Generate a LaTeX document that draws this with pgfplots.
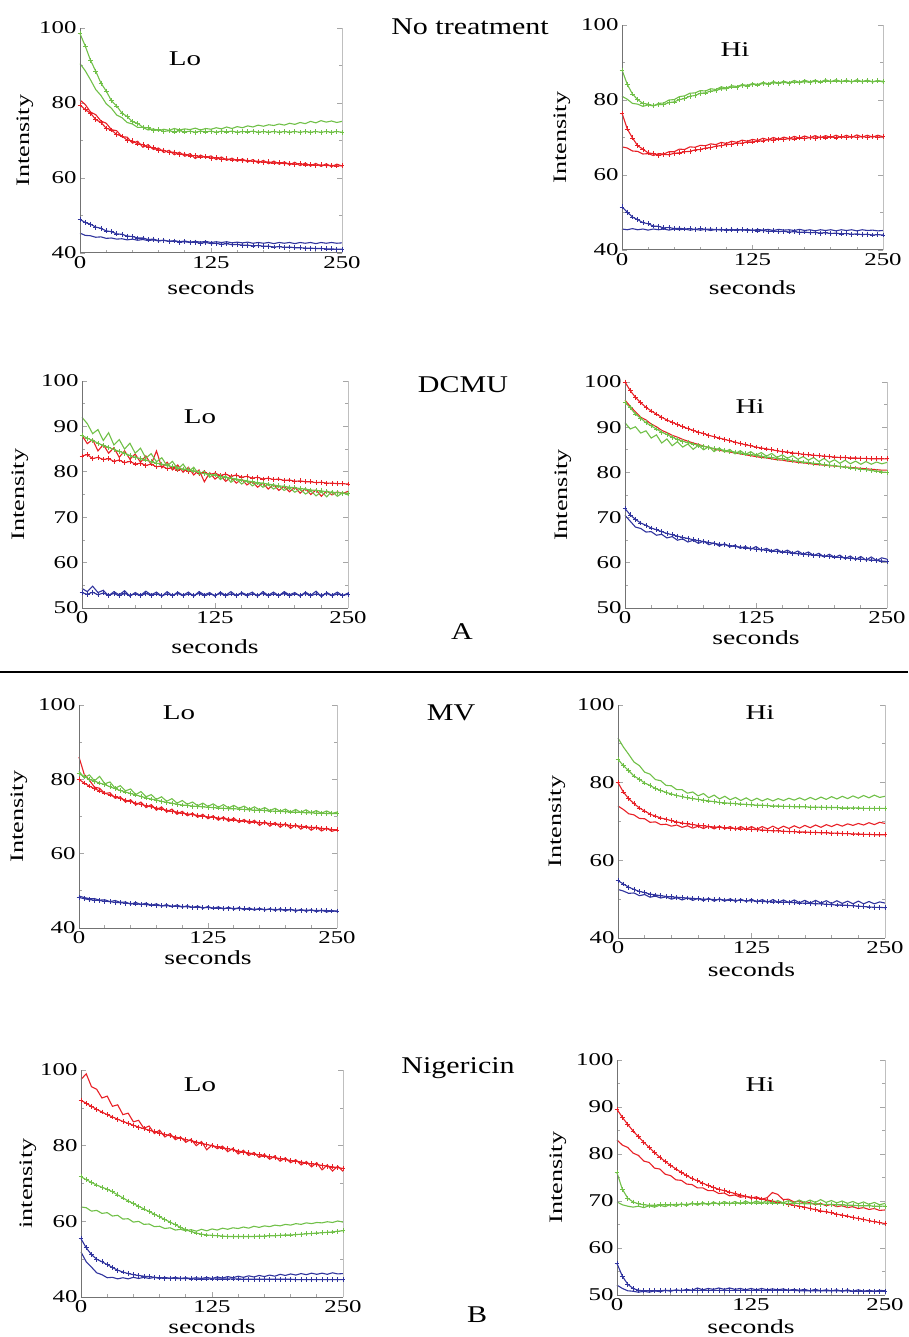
\documentclass[border=0pt]{standalone}
\usepackage{fontspec}
\usepackage{pgfplots}
\usepackage{pgfplotstable}
\pgfplotsset{compat=1.18}

\newfontfamily\serifx[FakeStretch=1.38]{Liberation Serif}
\newfontfamily\serifg[FakeStretch=1.25]{Liberation Serif}
\newcommand\tickf{\serifx\fontsize{18}{18}\selectfont}
\newcommand\labf{\serifx\fontsize{20}{20}\selectfont}
\newcommand\intf{\serifx\fontsize{19}{19}\selectfont}
\newcommand\ttlf{\serifx\fontsize{21}{21}\selectfont}
\newcommand\grpf{\serifg\fontsize{24}{24}\selectfont}

\definecolor{cr}{RGB}{232,32,38}
\definecolor{cg}{RGB}{112,192,72}
\definecolor{cb}{RGB}{48,52,158}

\pgfplotsset{
  panel/.style={
    scale only axis, clip=false,
    xmin=0, xmax=250,
    xtick={0,125,250},
    minor xtick={25,50,75,100,150,175,200,225},
    minor y tick num=1,
    axis line style={draw=none},
    xtick pos=left, ytick pos=both,
    tick align=inside,
    major tick length=5pt, minor tick length=3pt,
    tick style={gray!70, line width=0.7pt},
    tick label style={font=\tickf},
    /pgf/number format/assume math mode=true,
    xticklabel style={inner sep=1pt, yshift=-2pt},
    xlabel={seconds},
  },
  xlab/.style={every axis x label/.style={at={([yshift=-#1]axis description cs:0.5,0)}, anchor=center, font=\labf}},
  ylab/.style={every axis y label/.style={at={([xshift=-#1]axis description cs:0,0.5)}, anchor=center, rotate=90, font=\intf}},
  pl/.style={#1, line width=1.1pt, mark=+, mark size=2.4pt, mark options={solid, line width=0.7pt}},
  ln/.style={#1, line width=1.1pt, no marks},
}

\newcommand\frameit{%
  \draw[black!55, line width=1pt] (rel axis cs:0,1) -- (rel axis cs:0,0) -- (rel axis cs:1,0);
  \draw[black!25, line width=0.8pt] (rel axis cs:1,0) -- (rel axis cs:1,1);}

\newcommand\six[1]{%
  \addplot[pl=cb] table[x=t,y=b1]{#1};
  \addplot[ln=cb] table[x=t,y=b2]{#1};
  \addplot[pl=cr] table[x=t,y=r1]{#1};
  \addplot[ln=cr] table[x=t,y=r2]{#1};
  \addplot[pl=cg] table[x=t,y=g1]{#1};
  \addplot[ln=cg] table[x=t,y=g2]{#1};
  \frameit}

% No treatment, Lo
\pgfplotstableread{
t r1 r2 g1 g2 b1 b2
0 79.5 80.8 98.5 90.5 49.0 45.3
5 78.2 79.6 95.2 88.6 48.1 44.7
10 77.3 77.6 91.4 86.2 47.7 44.6
15 75.6 76.9 88.5 83.6 46.9 44.2
20 74.8 75.2 85.3 82.0 46.6 44.3
25 73.3 74.6 83.2 79.8 45.9 43.9
30 72.8 72.9 80.6 78.6 45.7 44.0
35 71.6 72.6 79.2 76.8 45.1 43.7
40 71.2 71.0 77.3 76.1 45.0 43.8
45 70.1 70.9 76.4 74.8 44.5 43.5
50 69.9 69.3 75.0 74.4 44.4 43.7
55 69.1 69.8 74.6 73.5 44.0 43.4
60 68.9 68.2 73.5 73.5 44.0 43.6
65 68.2 68.9 73.4 72.8 43.6 43.3
70 68.1 67.6 72.7 73.1 43.7 43.5
75 67.4 68.0 72.9 72.6 43.3 43.2
80 67.4 66.8 72.4 73.0 43.4 43.4
85 66.8 67.4 72.6 72.7 43.1 43.1
90 66.9 66.2 72.3 73.2 43.2 43.3
95 66.3 66.9 72.6 72.8 42.9 43.0
100 66.4 65.8 72.3 73.1 43.0 43.2
105 65.9 66.5 72.5 72.9 42.8 42.9
110 66.0 65.2 72.2 73.3 42.9 43.1
115 65.6 66.1 72.5 72.8 42.6 42.9
120 65.7 65.4 72.3 73.2 42.8 43.1
125 65.3 65.9 72.5 73.0 42.5 42.8
130 65.4 64.9 72.2 73.4 42.6 43.0
135 65.0 65.6 72.5 73.1 42.3 42.8
140 65.1 64.7 72.3 73.6 42.5 43.0
145 64.8 65.3 72.5 73.2 42.2 42.7
150 64.9 64.5 72.2 73.7 42.3 42.9
155 64.6 65.1 72.4 73.4 42.1 42.7
160 64.7 64.3 72.3 73.9 42.1 42.9
165 64.4 64.9 72.5 73.6 41.9 42.6
170 64.5 64.0 72.2 74.1 42.0 42.8
175 64.2 64.7 72.4 73.8 41.8 42.6
180 64.3 63.8 72.2 74.2 41.8 42.8
185 64.0 64.5 72.4 74.0 41.6 42.5
190 64.1 63.7 72.2 74.4 41.7 42.8
195 63.8 64.3 72.4 74.1 41.5 42.6
200 63.9 63.5 72.2 74.6 41.6 42.8
205 63.7 64.2 72.4 74.3 41.4 42.5
210 63.8 63.3 72.2 74.8 41.4 42.8
215 63.5 64.0 72.4 74.5 41.3 42.6
220 63.6 63.2 72.2 75.1 41.3 42.8
225 63.4 63.9 72.4 74.7 41.2 42.5
230 63.5 63.1 72.2 75.3 41.2 42.8
235 63.3 63.8 72.4 74.9 41.1 42.6
240 63.4 63.0 72.2 75.2 41.1 42.8
245 63.2 63.7 72.4 74.8 41.0 42.6
250 63.3 63.2 72.2 75.1 41.0 42.7
}\tA

% No treatment, Hi
\pgfplotstableread{
t r1 r2 g1 g2 b1 b2
0 76.5 67.5 88.0 81.0 51.5 45.6
5 72.3 67.2 84.2 80.2 50.1 45.4
10 69.9 66.4 81.6 79.1 48.8 45.7
15 67.8 66.3 80.1 78.9 48.1 45.4
20 66.9 65.6 79.1 78.3 47.3 45.6
25 65.9 65.7 78.9 78.7 47.0 45.3
30 65.7 65.2 78.5 78.4 46.4 45.6
35 65.3 65.7 78.8 79.1 46.3 45.4
40 65.5 65.6 78.8 79.2 45.9 45.6
45 65.4 66.2 79.3 80.0 46.0 45.3
50 65.8 66.2 79.5 80.1 45.7 45.6
55 65.9 66.9 80.1 80.9 45.8 45.4
60 66.2 66.8 80.4 81.1 45.6 45.6
65 66.3 67.5 81.0 81.8 45.7 45.3
70 66.7 67.4 81.2 81.9 45.5 45.5
75 66.8 67.9 81.8 82.5 45.7 45.3
80 67.2 67.8 81.9 82.4 45.5 45.5
85 67.3 68.3 82.4 83.0 45.6 45.2
90 67.7 68.1 82.5 82.8 45.4 45.5
95 67.8 68.7 83.0 83.5 45.5 45.3
100 68.1 68.4 83.0 83.2 45.3 45.5
105 68.2 69.0 83.5 83.8 45.5 45.2
110 68.5 68.7 83.4 83.6 45.3 45.5
115 68.5 69.3 83.9 84.1 45.4 45.3
120 68.8 69.0 83.7 83.9 45.2 45.5
125 68.8 69.5 84.2 84.4 45.3 45.2
130 69.1 69.2 84.0 84.1 45.1 45.5
135 69.1 69.8 84.4 84.7 45.2 45.3
140 69.4 69.4 84.2 84.3 45.0 45.5
145 69.3 70.0 84.6 84.9 45.1 45.2
150 69.6 69.5 84.4 84.5 44.9 45.5
155 69.5 70.1 84.7 85.0 45.0 45.3
160 69.7 69.7 84.5 84.6 44.8 45.4
165 69.6 70.3 84.8 85.2 44.9 45.2
170 69.9 69.8 84.6 84.7 44.7 45.5
175 69.7 70.4 84.9 85.3 44.8 45.2
180 70.0 69.9 84.7 84.8 44.6 45.4
185 69.8 70.5 85.0 85.3 44.7 45.1
190 70.1 69.9 84.8 84.8 44.5 45.4
195 69.9 70.5 85.1 85.4 44.6 45.2
200 70.2 70.0 84.9 84.9 44.4 45.4
205 69.9 70.6 85.1 85.4 44.5 45.1
210 70.2 70.0 84.9 84.9 44.3 45.4
215 70.0 70.6 85.1 85.3 44.4 45.2
220 70.3 70.0 84.9 84.8 44.2 45.4
225 70.0 70.7 85.1 85.4 44.3 45.1
230 70.3 70.1 84.9 84.9 44.1 45.4
235 70.0 70.6 85.1 85.3 44.2 45.2
240 70.3 70.1 84.9 84.8 44.0 45.3
245 70.1 70.6 85.1 85.2 44.1 45.1
250 70.2 70.2 85.0 84.8 44.0 45.2
}\tB

% DCMU, Lo
\pgfplotstableread{
t r1 r2 g1 g2 b1 b2
0 83.5 88.0 88.0 92.0 53.4 54.3
5 83.8 86.2 87.4 90.6 53.0 53.6
10 82.9 87.1 86.9 88.4 53.5 54.8
15 83.2 84.6 86.3 89.3 52.9 53.4
20 82.7 86.0 85.8 86.9 53.3 53.9
25 82.9 84.1 85.4 88.6 52.8 52.7
30 82.3 85.3 84.9 85.9 53.2 53.6
35 82.6 83.2 84.5 87.1 52.7 52.9
40 82.0 84.6 84.1 85.0 53.2 53.8
45 82.3 82.8 83.6 86.3 52.8 52.6
50 81.7 83.9 83.2 84.1 53.1 53.4
55 81.9 82.1 82.9 85.2 52.7 52.8
60 81.4 83.5 82.6 83.0 53.2 53.7
65 81.7 81.6 82.2 84.0 52.8 52.9
70 81.1 84.6 81.9 82.2 53.1 53.5
75 81.3 80.9 81.7 83.1 52.7 52.6
80 80.7 82.1 81.4 81.3 53.1 53.6
85 80.9 80.4 81.1 82.3 52.8 52.7
90 80.4 81.5 80.8 80.6 53.2 53.5
95 80.6 79.9 80.6 81.7 52.7 52.8
100 80.1 81.0 80.5 80.0 53.1 53.5
105 80.2 79.3 80.2 81.0 52.8 52.6
110 79.6 80.4 79.9 79.4 53.2 53.6
115 79.9 77.8 79.6 80.2 52.7 52.9
120 79.4 79.8 79.4 78.8 53.1 53.4
125 79.7 78.4 79.3 79.7 52.8 52.6
130 79.2 79.3 79.0 78.3 53.2 53.5
135 79.5 77.9 78.8 79.1 52.7 52.8
140 79.0 78.8 78.6 77.7 53.1 53.6
145 79.3 77.5 78.4 78.5 52.8 52.7
150 78.8 78.4 78.2 77.3 53.2 53.4
155 79.0 77.1 78.0 78.1 52.7 52.9
160 78.6 77.9 77.8 76.9 53.1 53.5
165 78.8 76.6 77.6 77.6 52.8 52.6
170 78.4 77.5 77.5 76.6 53.2 53.6
175 78.6 76.2 77.3 77.2 52.7 52.8
180 78.3 77.2 77.1 76.2 53.1 53.5
185 78.4 75.9 76.9 76.9 52.8 52.7
190 78.1 76.8 76.8 75.9 53.2 53.6
195 78.2 75.6 76.6 76.5 52.7 52.9
200 77.9 76.6 76.5 75.5 53.1 53.4
205 78.0 75.3 76.3 76.2 52.8 52.6
210 77.8 76.3 76.2 75.1 53.2 53.5
215 77.8 75.0 76.0 75.8 52.7 52.8
220 77.6 76.0 75.9 74.7 53.1 53.7
225 77.7 74.6 75.8 75.6 52.8 52.5
230 77.5 75.8 75.6 74.5 53.2 53.4
235 77.5 74.9 75.5 75.7 52.7 52.8
240 77.4 75.6 75.4 74.6 53.1 53.5
245 77.4 75.2 75.3 75.4 52.8 52.7
250 77.3 75.7 75.3 74.9 53.0 53.3
}\tC

% DCMU, Hi
\pgfplotstableread{
t r1 r2 g1 g2 b1 b2
0 100.0 96.0 95.5 91.0 72.0 70.5
5 98.1 94.6 94.3 89.6 70.6 69.2
10 96.6 93.4 92.9 90.1 69.6 67.9
15 95.4 92.2 92.0 88.7 68.8 67.6
20 94.4 91.6 91.0 89.2 68.3 66.8
25 93.6 90.7 90.3 87.6 67.7 66.9
30 92.9 90.1 89.6 88.3 67.3 66.1
35 92.2 89.3 88.9 86.5 66.9 66.3
40 91.6 88.8 88.4 87.4 66.5 65.5
45 91.1 88.2 87.8 85.9 66.2 65.8
50 90.6 87.8 87.3 86.8 65.9 65.0
55 90.1 87.3 86.9 85.6 65.6 65.3
60 89.7 86.9 86.6 86.3 65.4 64.6
65 89.3 86.5 86.3 85.1 65.1 65.0
70 88.9 86.2 86.0 86.0 64.9 64.3
75 88.6 85.8 85.8 85.0 64.7 64.8
80 88.2 85.5 85.5 85.7 64.5 64.0
85 87.9 85.2 85.3 84.6 64.3 64.4
90 87.6 84.9 85.1 85.4 64.1 63.7
95 87.3 84.7 84.9 84.5 64.0 64.2
100 87.0 84.5 84.7 85.1 63.8 63.5
105 86.7 84.3 84.5 84.1 63.6 63.9
110 86.4 84.1 84.3 84.8 63.5 63.2
115 86.1 83.9 84.1 84.0 63.3 63.6
120 85.9 83.7 83.9 84.6 63.2 63.0
125 85.6 83.5 83.8 83.8 63.0 63.6
130 85.4 83.3 83.6 84.4 62.9 62.8
135 85.2 83.2 83.4 83.6 62.8 63.2
140 85.0 83.0 83.3 84.2 62.6 62.6
145 84.8 82.8 83.1 83.3 62.5 63.0
150 84.6 82.7 83.0 83.9 62.4 62.3
155 84.5 82.5 82.8 83.1 62.3 62.8
160 84.3 82.4 82.6 83.7 62.1 62.1
165 84.2 82.2 82.5 82.9 62.0 62.6
170 84.0 82.1 82.3 83.5 61.9 61.9
175 83.9 82.0 82.2 82.7 61.8 62.4
180 83.8 81.8 82.0 83.3 61.7 61.6
185 83.7 81.7 81.9 82.4 61.6 62.1
190 83.6 81.6 81.7 83.1 61.5 61.3
195 83.5 81.5 81.6 82.2 61.4 61.9
200 83.4 81.4 81.5 82.8 61.3 61.2
205 83.3 81.3 81.3 82.0 61.2 61.7
210 83.3 81.2 81.2 82.7 61.1 60.9
215 83.2 81.1 81.0 81.9 61.0 61.5
220 83.2 81.0 80.9 82.5 60.9 60.7
225 83.1 80.9 80.7 81.8 60.8 61.4
230 83.1 80.8 80.6 82.4 60.7 60.6
235 83.0 80.7 80.4 81.8 60.6 61.3
240 83.0 80.6 80.3 82.3 60.5 60.5
245 83.0 80.5 80.1 81.9 60.4 61.1
250 83.0 80.5 80.0 82.2 60.3 60.8
}\tD

% MV, Lo
\pgfplotstableread{
t r1 r2 g1 g2 b1 b2
0 80.0 86.0 81.5 82.2 48.2 48.6
5 79.0 81.4 80.8 80.4 47.9 48.2
10 78.2 79.8 80.0 81.2 47.6 47.9
15 77.5 77.9 79.5 79.6 47.5 47.9
20 76.9 77.6 79.0 80.8 47.4 47.5
25 76.3 76.2 78.6 78.8 47.2 47.6
30 75.8 76.4 78.0 79.3 47.1 47.1
35 75.3 74.9 77.5 77.6 46.9 47.4
40 74.9 75.3 77.0 78.3 46.8 46.9
45 74.4 73.9 76.6 76.9 46.7 47.0
50 74.0 74.5 76.2 77.4 46.6 46.4
55 73.6 73.1 75.8 75.9 46.5 46.9
60 73.3 73.9 75.4 76.7 46.4 46.3
65 72.9 72.4 75.0 75.3 46.3 46.7
70 72.6 73.2 74.7 75.9 46.2 46.1
75 72.3 71.7 74.4 74.6 46.1 46.5
80 72.0 72.6 74.1 75.3 46.0 45.9
85 71.7 71.2 73.8 74.1 46.0 46.3
90 71.4 72.0 73.6 74.8 45.9 45.7
95 71.2 70.6 73.3 73.6 45.8 46.2
100 70.9 71.4 73.1 74.3 45.8 45.6
105 70.7 70.2 73.0 73.3 45.7 46.0
110 70.5 70.9 72.8 73.9 45.6 45.5
115 70.3 69.8 72.7 72.9 45.6 45.9
120 70.1 70.6 72.6 73.6 45.5 45.3
125 69.9 69.4 72.5 72.7 45.5 45.8
130 69.8 70.2 72.4 73.4 45.4 45.2
135 69.6 69.0 72.3 72.5 45.4 45.7
140 69.4 69.9 72.2 73.2 45.3 45.1
145 69.3 68.7 72.1 72.3 45.3 45.6
150 69.1 69.6 72.1 73.0 45.3 45.0
155 68.9 68.4 72.0 72.2 45.2 45.5
160 68.8 69.2 71.9 72.8 45.2 44.9
165 68.7 68.1 71.8 71.9 45.1 45.4
170 68.5 69.0 71.7 72.6 45.1 44.8
175 68.4 67.6 71.7 71.8 45.1 45.3
180 68.3 68.6 71.6 72.4 45.0 44.8
185 68.1 67.4 71.5 71.6 45.0 45.2
190 68.0 68.4 71.4 72.2 45.0 44.7
195 67.9 67.1 71.4 71.4 44.9 45.2
200 67.8 68.1 71.3 72.0 44.9 44.6
205 67.6 66.8 71.2 71.2 44.9 45.1
210 67.5 67.8 71.2 71.9 44.8 44.5
215 67.4 66.6 71.1 71.1 44.8 45.0
220 67.2 67.5 71.0 71.8 44.8 44.5
225 67.1 66.3 71.0 71.0 44.8 44.9
230 67.0 67.2 70.9 71.6 44.7 44.4
235 66.8 66.1 70.9 70.9 44.7 44.8
240 66.7 66.9 70.8 71.5 44.7 44.3
245 66.5 66.0 70.8 70.8 44.6 44.7
250 66.4 66.5 70.8 71.2 44.6 44.4
}\tE

% MV, Hi
\pgfplotstableread{
t r1 r2 g1 g2 b1 b2
0 80.0 74.0 86.0 91.5 54.8 52.5
5 77.6 73.1 84.4 89.2 53.9 52.1
10 75.9 72.0 83.1 87.3 53.1 51.5
15 74.6 71.7 81.7 85.3 52.5 51.6
20 73.5 70.8 80.9 84.4 52.0 50.9
25 72.7 70.7 79.9 82.7 51.7 51.2
30 71.9 69.8 79.3 82.2 51.3 50.5
35 71.4 69.9 78.5 80.8 51.1 50.8
40 70.9 69.2 78.0 80.5 50.9 50.3
45 70.6 69.3 77.5 79.3 50.7 50.6
50 70.2 68.8 77.1 79.2 50.6 50.0
55 69.9 69.1 76.7 78.2 50.5 50.4
60 69.6 68.5 76.4 78.2 50.4 49.8
65 69.4 68.9 76.1 77.3 50.3 50.3
70 69.2 68.3 75.9 77.6 50.2 49.7
75 69.0 68.8 75.7 76.6 50.1 50.2
80 68.9 68.2 75.5 77.2 50.0 49.6
85 68.7 68.8 75.3 76.1 50.0 50.2
90 68.6 68.1 75.1 76.8 49.9 49.5
95 68.5 68.8 74.9 75.8 49.9 50.1
100 68.4 68.1 74.8 76.5 49.8 49.5
105 68.3 68.7 74.7 75.6 49.8 50.1
110 68.2 68.0 74.6 76.2 49.7 49.4
115 68.1 68.7 74.5 75.4 49.7 50.0
120 68.1 68.0 74.4 76.1 49.6 49.4
125 68.0 68.7 74.3 75.3 49.6 50.0
130 67.9 68.0 74.2 76.0 49.5 49.3
135 67.8 68.7 74.2 75.3 49.4 49.9
140 67.7 68.1 74.1 75.9 49.4 49.2
145 67.6 68.8 74.0 75.3 49.3 49.9
150 67.6 68.1 74.0 75.9 49.3 49.2
155 67.5 68.8 73.9 75.4 49.2 49.8
160 67.4 68.2 73.9 76.0 49.2 49.1
165 67.4 68.9 73.8 75.5 49.1 49.8
170 67.3 68.3 73.8 76.1 49.0 49.1
175 67.3 69.0 73.8 75.5 49.0 49.7
180 67.2 68.4 73.7 76.2 48.9 49.0
185 67.2 69.1 73.7 75.6 48.8 49.7
190 67.1 68.5 73.7 76.3 48.8 49.0
195 67.1 69.2 73.6 75.7 48.7 49.6
200 67.0 68.7 73.6 76.4 48.6 48.9
205 67.0 69.3 73.6 75.8 48.5 49.6
210 66.9 68.8 73.5 76.5 48.5 48.9
215 66.9 69.4 73.5 75.9 48.4 49.5
220 66.8 69.0 73.5 76.6 48.3 48.8
225 66.8 69.5 73.5 76.0 48.2 49.5
230 66.7 69.1 73.4 76.7 48.1 48.8
235 66.7 69.7 73.4 76.1 48.0 49.4
240 66.6 69.2 73.4 76.8 47.9 48.8
245 66.6 69.8 73.4 76.2 47.9 49.3
250 66.6 69.5 73.4 76.5 47.8 49.0
}\tF

% Nigericin, Lo
\pgfplotstableread{
t r1 r2 g1 g2 b1 b2
0 92.0 97.5 71.8 63.8 55.4 51.9
5 91.2 99.0 71.0 63.6 53.0 49.3
10 90.4 95.6 70.3 62.7 51.2 47.9
15 89.6 94.9 69.6 62.9 50.0 46.4
20 88.9 92.6 69.0 62.1 49.3 45.9
25 88.2 93.1 68.5 62.3 48.6 45.1
30 87.6 90.4 67.8 61.4 47.8 45.2
35 87.0 90.8 67.0 61.6 47.1 44.8
40 86.4 88.2 66.2 60.6 46.6 45.1
45 85.9 88.6 65.4 60.7 46.2 44.8
50 85.4 86.3 64.7 59.8 45.9 45.2
55 84.9 86.7 64.0 60.0 45.7 44.9
60 84.5 84.6 63.3 59.2 45.5 45.2
65 84.1 85.2 62.6 59.3 45.4 44.9
70 83.7 83.2 61.9 58.6 45.2 45.2
75 83.3 84.1 61.2 58.7 45.1 44.9
80 83.0 82.3 60.5 58.1 45.0 45.2
85 82.6 83.2 59.8 58.3 45.0 44.9
90 82.3 81.6 59.1 57.7 44.9 45.2
95 82.0 82.3 58.4 57.9 44.9 44.9
100 81.6 80.9 57.8 57.5 44.9 45.1
105 81.3 81.7 57.3 57.8 44.8 44.9
110 81.0 80.0 56.9 57.4 44.8 45.1
115 80.6 81.1 56.6 57.9 44.8 44.9
120 80.3 78.9 56.4 57.5 44.8 45.2
125 80.0 80.2 56.3 58.0 44.8 44.9
130 79.7 79.2 56.2 57.7 44.8 45.3
135 79.4 79.9 56.1 58.2 44.8 45.0
140 79.2 78.4 56.0 57.9 44.8 45.4
145 78.9 79.3 56.0 58.3 44.8 45.1
150 78.6 77.8 56.0 58.1 44.8 45.5
155 78.3 78.8 56.0 58.5 44.7 45.2
160 78.1 77.4 56.0 58.2 44.7 45.6
165 77.8 78.2 56.0 58.7 44.7 45.3
170 77.6 76.9 56.1 58.4 44.7 45.7
175 77.3 77.7 56.1 58.8 44.7 45.4
180 77.1 76.4 56.2 58.6 44.7 45.8
185 76.8 77.3 56.2 59.0 44.7 45.5
190 76.6 75.9 56.3 58.8 44.7 46.0
195 76.3 76.8 56.4 59.2 44.7 45.7
200 76.1 75.5 56.4 59.0 44.7 46.1
205 75.9 76.3 56.5 59.4 44.6 45.8
210 75.7 74.9 56.6 59.2 44.6 46.2
215 75.4 75.8 56.7 59.6 44.6 45.9
220 75.2 74.4 56.8 59.4 44.6 46.3
225 75.0 75.5 56.9 59.7 44.6 46.0
230 74.8 73.6 57.0 59.6 44.6 46.3
235 74.6 74.9 57.1 59.9 44.6 46.0
240 74.4 73.3 57.2 59.7 44.6 46.4
245 74.2 74.6 57.4 60.1 44.6 46.1
250 74.0 73.2 57.5 59.8 44.6 46.2
}\tG

% Nigericin, Hi
\pgfplotstableread{
t r1 r2 g1 g2 b1 b2
0 89.5 83.0 76.0 69.8 56.7 52.1
5 87.8 81.9 72.5 69.2 54.0 51.4
10 86.3 81.4 70.6 68.9 52.3 50.9
15 84.9 80.2 69.8 68.7 51.4 50.8
20 83.7 79.7 69.4 68.9 51.0 50.6
25 82.5 78.5 69.2 68.6 50.9 50.8
30 81.4 78.2 69.1 69.0 50.9 50.6
35 80.3 77.0 69.1 68.7 50.9 50.9
40 79.3 76.8 69.2 69.1 50.9 50.7
45 78.4 75.7 69.2 68.8 51.0 51.0
50 77.6 75.4 69.2 69.3 51.0 50.8
55 76.8 74.5 69.3 68.9 51.0 51.1
60 76.1 74.4 69.3 69.4 51.0 50.9
65 75.4 73.6 69.3 69.0 51.0 51.2
70 74.8 73.5 69.4 69.6 51.0 51.0
75 74.3 72.8 69.4 69.1 51.0 51.5
80 73.8 72.8 69.4 69.7 51.0 51.1
85 73.3 72.2 69.4 69.2 51.0 51.4
90 72.9 72.2 69.5 69.8 51.0 51.2
95 72.5 71.6 69.5 69.3 51.0 51.5
100 72.2 71.7 69.5 69.9 51.0 51.2
105 71.9 71.1 69.5 69.4 51.0 51.5
110 71.6 71.3 69.5 69.9 51.0 51.2
115 71.3 70.8 69.6 69.4 51.0 51.4
120 71.0 71.0 69.6 70.0 51.0 51.1
125 70.8 70.6 69.6 69.5 51.0 51.4
130 70.6 70.9 69.6 70.0 51.0 51.1
135 70.4 70.4 69.6 69.6 51.0 51.4
140 70.2 70.7 69.6 70.1 51.0 51.1
145 70.0 71.8 69.6 69.6 51.0 51.3
150 69.8 71.4 69.6 70.1 51.0 51.1
155 69.6 70.3 69.5 69.6 51.0 51.3
160 69.3 70.4 69.5 70.1 51.0 51.0
165 69.1 69.8 69.5 69.6 51.0 51.2
170 68.9 70.0 69.5 70.2 50.9 51.0
175 68.7 69.5 69.4 69.7 50.9 51.2
180 68.4 69.7 69.4 70.2 50.9 50.9
185 68.2 69.2 69.4 69.7 50.9 51.2
190 67.9 69.5 69.3 70.3 50.9 50.9
195 67.7 69.0 69.3 69.7 50.9 51.1
200 67.5 69.3 69.3 70.1 50.9 50.9
205 67.2 68.8 69.2 69.6 50.9 51.1
210 67.0 69.0 69.2 70.0 50.9 50.8
215 66.8 68.6 69.1 69.5 50.9 51.1
220 66.5 68.8 69.1 69.9 50.8 50.8
225 66.3 68.4 69.0 69.4 50.8 51.1
230 66.1 68.6 69.0 69.8 50.8 50.8
235 65.8 68.2 69.0 69.3 50.8 51.0
240 65.6 68.4 68.9 69.7 50.8 50.8
245 65.4 68.0 68.9 69.2 50.8 51.0
250 65.2 68.1 68.9 69.5 50.8 50.9
}\tH

\begin{document}
\begin{tikzpicture}
% row 1: no treatment
\begin{axis}[panel, at={(80pt,-253pt)}, anchor=south west, width=262pt, height=225pt,
  ymin=40, ymax=100, ytick={40,60,80,100}, xlab=35pt, ylab=55pt, ylabel={Intensity}]
\six{\tA}
\end{axis}
\begin{axis}[panel, at={(622pt,-250pt)}, anchor=south west, width=261pt, height=225pt,
  ymin=40, ymax=100, ytick={40,60,80,100}, xlab=38pt, ylab=60pt, ylabel={Intensity}]
\six{\tB}
\end{axis}
% row 2: DCMU
\begin{axis}[panel, at={(82pt,-608pt)}, anchor=south west, width=266pt, height=227pt,
  ymin=50, ymax=100, ytick={50,60,...,100}, xlab=39pt, ylab=62pt, ylabel={Intensity}]
\six{\tC}
\end{axis}
\begin{axis}[panel, at={(625pt,-608pt)}, anchor=south west, width=262pt, height=226pt,
  ymin=50, ymax=100, ytick={50,60,...,100}, xlab=30pt, ylab=62pt, ylabel={Intensity}]
\six{\tD}
\end{axis}
% row 3: MV
\begin{axis}[panel, at={(79pt,-928pt)}, anchor=south west, width=258pt, height=223pt,
  ymin=40, ymax=100, ytick={40,60,80,100}, xlab=30pt, ylab=60pt, ylabel={Intensity}]
\six{\tE}
\end{axis}
\begin{axis}[panel, at={(618pt,-938pt)}, anchor=south west, width=267pt, height=233pt,
  ymin=40, ymax=100, ytick={40,60,80,100}, xlab=32pt, ylab=61pt, ylabel={Intensity}]
\six{\tF}
\end{axis}
% row 4: Nigericin
\begin{axis}[panel, at={(81pt,-1297pt)}, anchor=south west, width=262pt, height=227pt,
  ymin=40, ymax=100, ytick={40,60,80,100}, xlab=30pt, ylab=53pt, ylabel={intensity}]
\six{\tG}
\end{axis}
\begin{axis}[panel, at={(617pt,-1295pt)}, anchor=south west, width=268pt, height=235pt,
  ymin=50, ymax=100, ytick={50,60,...,100}, xlab=32pt, ylab=59pt, ylabel={Intensity}]
\six{\tH}
\end{axis}

% panel titles
\node[font=\ttlf] at (185pt,-59pt) {Lo};
\node[font=\ttlf] at (735pt,-50pt) {Hi};
\node[font=\ttlf] at (200pt,-417pt) {Lo};
\node[font=\ttlf] at (750pt,-407pt) {Hi};
\node[font=\ttlf] at (179pt,-713pt) {Lo};
\node[font=\ttlf] at (760pt,-713pt) {Hi};
\node[font=\ttlf] at (200pt,-1085pt) {Lo};
\node[font=\ttlf] at (760pt,-1085pt) {Hi};
% treatment names
\node[font=\grpf] at (470pt,-27pt) {No treatment};
\node[font=\grpf] at (463pt,-385pt) {DCMU};
\node[font=\grpf] at (451pt,-713pt) {MV};
\node[font=\grpf] at (458pt,-1068pt) {Nigericin};
\node[font=\grpf] at (462pt,-632pt) {A};
\node[font=\grpf] at (477pt,-1315pt) {B};
\draw[line width=1.3pt] (0pt,-672pt) -- (908pt,-672pt);

\pgfresetboundingbox
\path[use as bounding box] (0pt,0pt) rectangle (908pt,-1337pt);
\end{tikzpicture}
\end{document}
